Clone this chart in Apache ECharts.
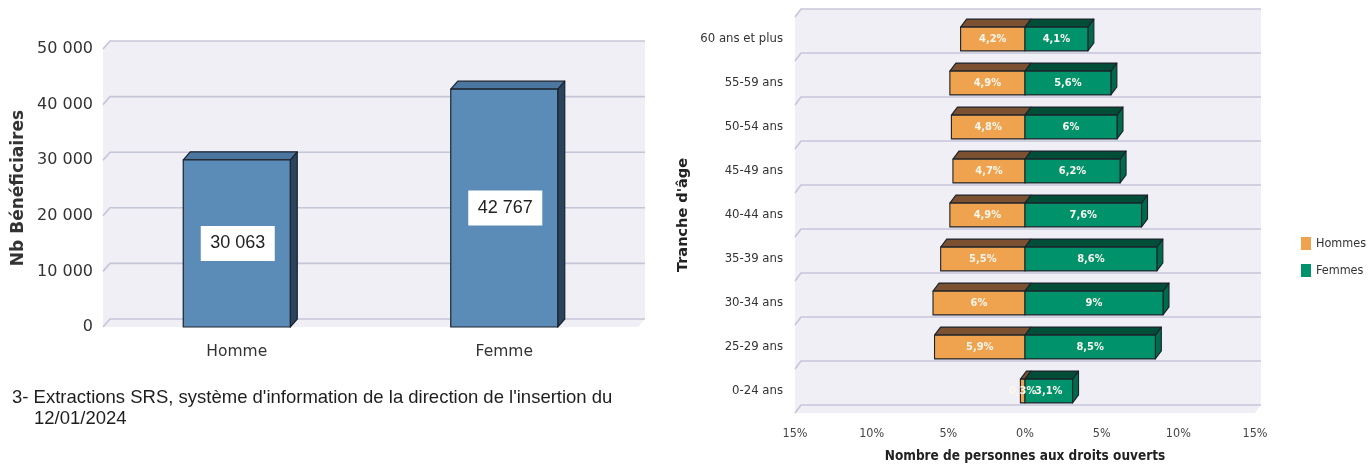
<!DOCTYPE html>
<html>
<head>
<meta charset="utf-8">
<script src="https://cdn.jsdelivr.net/npm/echarts@6/dist/echarts.min.js"></script>
<style>
  html, body { margin: 0; padding: 0; background: #ffffff; }
  #chart { width: 1368px; height: 468px; }
</style>
</head>
<body>
<div id="chart"></div>
<script>
// Beneficiaries by gender
const genderCategories = ['Homme', 'Femme'];
const beneficiaries = [30063, 42767];
const countTicks = [0, 10000, 20000, 30000, 40000, 50000];

// Age pyramid (share of people with open rights, %)
const ageGroups = ['0-24 ans', '25-29 ans', '30-34 ans', '35-39 ans', '40-44 ans',
                   '45-49 ans', '50-54 ans', '55-59 ans', '60 ans et plus'];
const hommesPct = [0.3, 5.9, 6, 5.5, 4.9, 4.7, 4.8, 4.9, 4.2];
const femmesPct = [3.1, 8.5, 9, 8.6, 7.6, 6.2, 6, 5.6, 4.1];
const seriesNames = ['Hommes', 'Femmes'];

const sourceLines = [
  "3- Extractions SRS, système d'information de la direction de l'insertion du",
  "12/01/2024"
];

const COND = "'DejaVu Sans Condensed', 'DejaVu Sans', sans-serif";
const SANS = "'DejaVu Sans', sans-serif";
const HELV = "'Liberation Sans', Arial, sans-serif";
const WALL_BG = '#efeff5';
const WALL_LINE = '#c6c6da';
const EDGE = '#1c232b';

// depth of the pseudo-3D boxes (back plane offset from the front plane)
const DEPTH_L = { x: 7, y: -8 };
const DEPTH_R = { x: 6, y: -8 };

function fmtThousands(v) {
  return String(v).replace(/\B(?=(\d{3})+(?!\d))/g, ' ');
}
function fmtPct(v) {
  return String(v).replace('.', ',') + '%';
}

// back wall + floor of the left chart, with its horizontal grid lines
function renderLeftWall(params, api) {
  const cs = params.coordSys;
  const d = DEPTH_L;
  const x0 = cs.x, x1 = cs.x + cs.width, yT = cs.y, yB = cs.y + cs.height;
  const y = api.coord([0, api.value(0)])[1];
  const children = [];
  if (params.dataIndex === 0) {
    children.push({
      type: 'polygon',
      shape: { points: [[x0, yT], [x0 + d.x, yT + d.y], [x1 + d.x, yT + d.y],
                        [x1 + d.x, yB + d.y], [x1, yB], [x0, yB]] },
      style: { fill: WALL_BG },
      z2: 0
    });
  }
  children.push({
    type: 'polyline',
    shape: { points: [[x0, y], [x0 + d.x, y + d.y], [x1 + d.x, y + d.y]] },
    style: { stroke: WALL_LINE, lineWidth: 1.6, fill: null },
    z2: 1
  });
  return { type: 'group', children };
}

// 3D column for the gender chart
function renderColumn(params, api) {
  const d = DEPTH_L;
  const idx = api.value(0), v = api.value(1);
  const base = api.coord([idx, 0]);
  const top = api.coord([idx, v]);
  const bw = api.size([1, 0])[0] * 0.4;
  const xL = base[0] - bw / 2, xR = base[0] + bw / 2, yT = top[1], yB = base[1];
  const edge = { stroke: EDGE, lineWidth: 1.2, lineJoin: 'round' };
  const cy = (yT + yB) / 2;
  return {
    type: 'group',
    children: [
      { type: 'polygon', shape: { points: [[xR, yT], [xR + d.x, yT + d.y], [xR + d.x, yB + d.y], [xR, yB]] },
        style: Object.assign({ fill: '#2b445e' }, edge) },
      { type: 'polygon', shape: { points: [[xL, yT], [xL + d.x, yT + d.y], [xR + d.x, yT + d.y], [xR, yT]] },
        style: Object.assign({ fill: '#4a76a0' }, edge) },
      { type: 'rect', shape: { x: xL, y: yT, width: bw, height: yB - yT },
        style: Object.assign({ fill: '#5b8cb8' }, edge) },
      { type: 'rect', shape: { x: base[0] - 36, y: cy - 17.5, width: 74, height: 35 },
        style: { fill: '#ffffff' } },
      { type: 'text', x: base[0] + 1, y: cy,
        style: { text: fmtThousands(v), fill: '#222222', fontSize: 18, fontFamily: HELV,
                 align: 'center', verticalAlign: 'middle' } }
    ]
  };
}

// back wall + floor of the age pyramid, lines between age bands
function renderRightWall(params, api) {
  const cs = params.coordSys;
  const d = DEPTH_R;
  const x0 = cs.x, x1 = cs.x + cs.width, yT = cs.y, yB = cs.y + cs.height;
  const idx = api.value(0);
  const c = api.coord([0, idx])[1];
  const band = api.size([0, 1])[1];
  const children = [];
  const line = (y) => ({
    type: 'polyline',
    shape: { points: [[x0, y], [x0 + d.x, y + d.y], [x1 + d.x, y + d.y]] },
    style: { stroke: WALL_LINE, lineWidth: 1.6, fill: null },
    z2: 1
  });
  if (params.dataIndex === 0) {
    children.push({
      type: 'polygon',
      shape: { points: [[x0, yT], [x0 + d.x, yT + d.y], [x1 + d.x, yT + d.y],
                        [x1 + d.x, yB + d.y], [x1, yB], [x0, yB]] },
      style: { fill: WALL_BG },
      z2: 0
    });
    children.push(line(c + band / 2));
  }
  children.push(line(c - band / 2));
  return { type: 'group', children };
}

// half of a pyramid bar; side: -1 for Hommes (left), +1 for Femmes (right)
function makePyramidRenderer(side, front, topFace, sideFace) {
  return function (params, api) {
    const d = DEPTH_R;
    const v = api.value(0), idx = api.value(1);
    const p0 = api.coord([0, idx]);
    const p1 = api.coord([side * v, idx]);
    const h = api.size([0, 1])[1] * 0.54;
    const xL = Math.min(p0[0], p1[0]), xR = Math.max(p0[0], p1[0]);
    const yT = p0[1] - h / 2, yB = p0[1] + h / 2;
    const edge = { stroke: EDGE, lineWidth: 1.1, lineJoin: 'round' };
    const children = [];
    if (side > 0) {
      children.push({ type: 'polygon',
        shape: { points: [[xR, yT], [xR + d.x, yT + d.y], [xR + d.x, yB + d.y], [xR, yB]] },
        style: Object.assign({ fill: sideFace }, edge) });
    }
    children.push({ type: 'polygon',
      shape: { points: [[xL, yT], [xL + d.x, yT + d.y], [xR + d.x, yT + d.y], [xR, yT]] },
      style: Object.assign({ fill: topFace }, edge) });
    children.push({ type: 'rect',
      shape: { x: xL, y: yT, width: xR - xL, height: yB - yT },
      style: Object.assign({ fill: front }, edge) });
    children.push({ type: 'text', x: (xL + xR) / 2, y: p0[1] + 0.5, z2: 50,
      style: { text: fmtPct(v), fill: '#fbf7ee', fontSize: 11, fontWeight: 'bold',
               fontFamily: COND, align: 'center', verticalAlign: 'middle' } });
    return { type: 'group', children };
  };
}

const chart = echarts.init(document.getElementById('chart'), null, { renderer: 'canvas' });

chart.setOption({
  animation: false,
  backgroundColor: '#ffffff',
  graphic: [
    { type: 'text', left: 12, top: 388,
      style: { text: sourceLines[0], fill: '#1e1e1e', fontSize: 18.5, fontFamily: HELV } },
    { type: 'text', left: 34, top: 409,
      style: { text: sourceLines[1], fill: '#1e1e1e', fontSize: 18.5, fontFamily: HELV } }
  ],
  legend: {
    data: seriesNames,
    orient: 'vertical',
    left: 1296,
    top: 232,
    itemWidth: 10,
    itemHeight: 13,
    itemGap: 14,
    icon: 'rect',
    textStyle: { fontSize: 12.5, color: '#333333', fontFamily: COND }
  },
  grid: [
    { left: 103, top: 49, width: 535, height: 278 },
    { left: 795, top: 17, width: 460, height: 397 }
  ],
  xAxis: [
    {
      gridIndex: 0, type: 'category', data: genderCategories,
      axisLine: { show: false }, axisTick: { show: false }, splitLine: { show: false },
      axisLabel: { margin: 17, fontSize: 15.5, color: '#333333', fontFamily: SANS }
    },
    {
      gridIndex: 1, type: 'value', min: -15, max: 15, interval: 5,
      name: 'Nombre de personnes aux droits ouverts', nameLocation: 'middle', nameGap: 36,
      nameTextStyle: { fontSize: 13.5, fontWeight: 'bold', color: '#222222', fontFamily: COND },
      axisLine: { show: false }, axisTick: { show: false }, splitLine: { show: false },
      axisLabel: { margin: 14, fontSize: 12.5, color: '#444444', fontFamily: COND,
                   formatter: (v) => Math.abs(v) + '%' }
    }
  ],
  yAxis: [
    {
      gridIndex: 0, type: 'value', min: 0, max: 50000, interval: 10000,
      name: 'Nb Bénéficiaires', nameLocation: 'middle', nameGap: 76,
      nameTextStyle: { fontSize: 17, fontWeight: 'bold', color: '#333333', fontFamily: SANS },
      axisLine: { show: false }, axisTick: { show: false }, splitLine: { show: false },
      axisLabel: { margin: 10, fontSize: 16, color: '#333333', fontFamily: SANS,
                   formatter: fmtThousands }
    },
    {
      gridIndex: 1, type: 'category', data: ageGroups,
      name: "Tranche d'âge", nameLocation: 'middle', nameGap: 104,
      nameTextStyle: { fontSize: 14.5, fontWeight: 'bold', color: '#222222', fontFamily: SANS },
      axisLine: { show: false }, axisTick: { show: false }, splitLine: { show: false },
      axisLabel: { margin: 12, fontSize: 13, color: '#333333', fontFamily: COND }
    }
  ],
  series: [
    {
      name: 'wall-left', type: 'custom', xAxisIndex: 0, yAxisIndex: 0,
      data: countTicks.map((v) => [v]), encode: { y: 0 },
      renderItem: renderLeftWall, silent: true, z: 1
    },
    {
      name: 'Nb Bénéficiaires', type: 'custom', xAxisIndex: 0, yAxisIndex: 0,
      data: beneficiaries.map((v, i) => [i, v]), encode: { x: 0, y: 1 },
      renderItem: renderColumn, z: 2
    },
    {
      name: 'wall-right', type: 'custom', xAxisIndex: 1, yAxisIndex: 1,
      data: ageGroups.map((g, i) => [i]), encode: { y: 0 },
      renderItem: renderRightWall, silent: true, z: 1
    },
    {
      name: seriesNames[0], type: 'custom', xAxisIndex: 1, yAxisIndex: 1,
      itemStyle: { color: '#f0a34f' },
      data: hommesPct.map((v, i) => [v, i]), encode: { x: 0, y: 1 },
      renderItem: makePyramidRenderer(-1, '#f0a34f', '#7b5132', '#7b5132'), z: 2
    },
    {
      name: seriesNames[1], type: 'custom', xAxisIndex: 1, yAxisIndex: 1,
      itemStyle: { color: '#00936b' },
      data: femmesPct.map((v, i) => [v, i]), encode: { x: 0, y: 1 },
      renderItem: makePyramidRenderer(1, '#00936b', '#004d38', '#006a4d'), z: 2
    }
  ]
});
</script>
</body>
</html>
